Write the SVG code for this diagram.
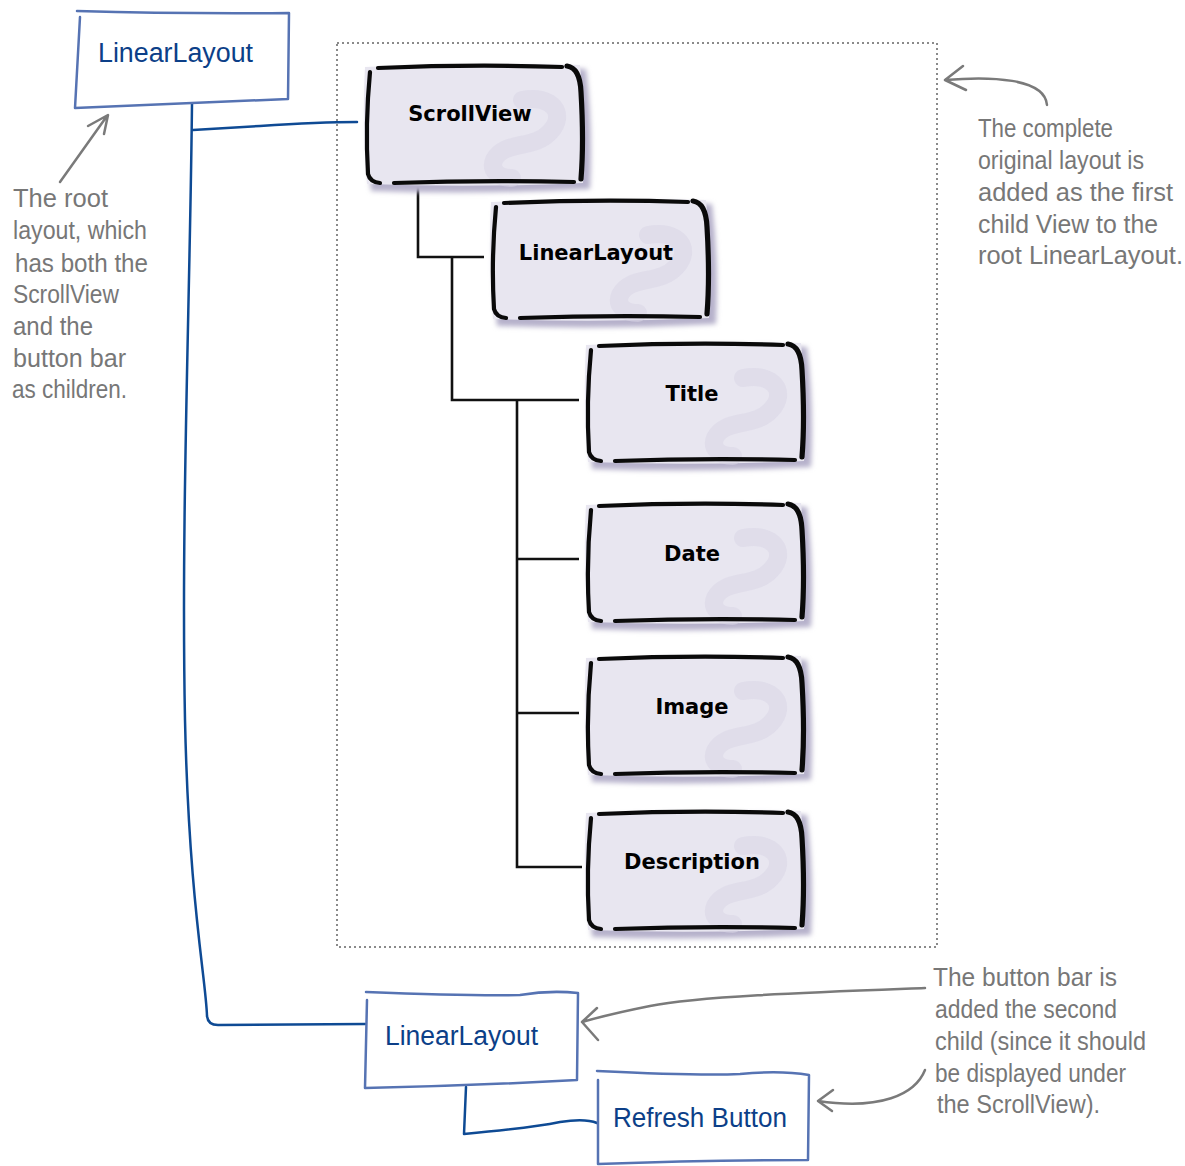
<svg xmlns="http://www.w3.org/2000/svg" xmlns:xlink="http://www.w3.org/1999/xlink" width="1185" height="1166" viewBox="0 0 1185 1166">
<style>
.hand{font-family:"Liberation Sans","DejaVu Sans",sans-serif;font-size:25px;fill:#777}
.blue{font-family:"Liberation Sans","DejaVu Sans",sans-serif;font-size:27px;fill:#0c3f88}
.nodet{font-family:"DejaVu Sans","Liberation Sans",sans-serif;font-weight:bold;font-size:21px;fill:#000;text-anchor:middle}
.bbox{fill:none;stroke:#5673b3;stroke-width:2.5;stroke-linecap:round;stroke-linejoin:round}
.bline{fill:none;stroke:#0e4a94;stroke-width:2.5;stroke-linecap:round;stroke-linejoin:round}
.kline{fill:none;stroke:#111;stroke-width:2.6}
.garrow{fill:none;stroke:#7a7a7a;stroke-width:2.5;stroke-linecap:round;stroke-linejoin:round}
.shadow{fill:#b6b1cb}
.bfill{fill:#e8e6f0}
.tex{fill:none;stroke:#d9d6e5;stroke-width:18;stroke-linecap:round;opacity:0.55}
.edge{fill:none;stroke:#0a0a0a;stroke-width:4.2;stroke-linecap:round}
.edge-r{stroke-width:5.2}
</style>
<defs>
<filter id="blur" x="-10%" y="-10%" width="120%" height="120%"><feGaussianBlur stdDeviation="2.5"/></filter>
<g id="box">
<path class="shadow" filter="url(#blur)" d="M7,9 Q112,2 224,7 Q231,64 228,127 Q116,133 9,129 Q3,70 7,9Z"/>
<path class="bfill" d="M3,5 Q112,0 218,3 Q224,62 221,121 Q112,126 5,122 Q0,62 3,5Z"/>
<path class="tex" d="M160,38 C190,32 205,52 188,70 C172,88 142,78 132,98 C128,108 136,116 150,116"/>
<path class="edge" d="M8,10 Q3,62 6,112 Q8,120 18,121"/>
<path class="edge" d="M16,6 Q110,2 200,5"/>
<path class="edge edge-r" d="M205,4 Q218,6 219,30 Q222,80 219,117"/>
<path class="edge" d="M32,121 Q120,118 212,120"/>
</g>
</defs>
<rect width="1185" height="1166" fill="#fff"/>

<rect x="337" y="43" width="600" height="904" fill="none" stroke="#8a8a8a" stroke-width="2" stroke-dasharray="2 3"/>

<g id="connectors">
<path class="bline" d="M192,104 C190,300 181,520 185,720 C189,900 206,980 207,1016 Q208,1025 218,1025 L365,1024"/>
<path class="bline" d="M193,130 L260,126 Q320,122 357,122"/>
<path class="bline" d="M466,1087 L464,1134 Q530,1128 560,1122 Q585,1118 597,1123"/>
<path class="kline" d="M418,187 V257 H484"/>
<path class="kline" d="M452,257 V400 H579"/>
<path class="kline" d="M517,400 V867 H582"/>
<path class="kline" d="M517,559 H579"/>
<path class="kline" d="M517,713 H579"/>
</g>

<g id="root-linearlayout">
<path class="bbox" d="M77,11 Q180,14 289,13 L288,99 Q180,104 75,108 L80,17"/>
<text class="blue" x="98" y="62" textLength="155" lengthAdjust="spacingAndGlyphs">LinearLayout</text>
</g>

<g id="scrollview" transform="translate(362,62)"><use xlink:href="#box"/><text class="nodet" x="108" y="59">ScrollView</text></g>
<g id="inner-linearlayout" transform="translate(488,197)"><use xlink:href="#box"/><text class="nodet" x="108" y="63">LinearLayout</text></g>
<g id="title" transform="translate(583,340)"><use xlink:href="#box"/><text class="nodet" x="109" y="61">Title</text></g>
<g id="date" transform="translate(583,500)"><use xlink:href="#box"/><text class="nodet" x="109" y="61">Date</text></g>
<g id="image" transform="translate(583,653)"><use xlink:href="#box"/><text class="nodet" x="109" y="61">Image</text></g>
<g id="description" transform="translate(583,808)"><use xlink:href="#box"/><text class="nodet" x="109" y="61">Description</text></g>

<g id="bottom-linearlayout">
<path class="bbox" d="M366,992 Q470,996 520,995 Q550,990 578,993 L577,1080 Q470,1086 365,1088 L367,1000"/>
<text class="blue" x="385" y="1045" textLength="153" lengthAdjust="spacingAndGlyphs">LinearLayout</text>
</g>

<g id="refresh-button">
<path class="bbox" d="M597,1071 Q700,1076 740,1074 Q780,1070 809,1075 L808,1160 Q700,1160 598,1164 L598,1080"/>
<text class="blue" x="613" y="1127" textLength="174" lengthAdjust="spacingAndGlyphs">Refresh Button</text>
</g>

<g id="note-root">
<path class="garrow" d="M60,182 L107,116 M88,126 L108,115 L104,134"/>
<text class="hand" x="13" y="207" textLength="95" lengthAdjust="spacingAndGlyphs">The root</text>
<text class="hand" x="13" y="239" textLength="134" lengthAdjust="spacingAndGlyphs">layout, which</text>
<text class="hand" x="15" y="272" textLength="133" lengthAdjust="spacingAndGlyphs">has both the</text>
<text class="hand" x="13" y="303" textLength="106" lengthAdjust="spacingAndGlyphs">ScrollView</text>
<text class="hand" x="13" y="335" textLength="80" lengthAdjust="spacingAndGlyphs">and the</text>
<text class="hand" x="13" y="367" textLength="113" lengthAdjust="spacingAndGlyphs">button bar</text>
<text class="hand" x="12" y="398" textLength="115" lengthAdjust="spacingAndGlyphs">as children.</text>
</g>

<g id="note-original">
<path class="garrow" d="M945,80 C990,76 1045,78 1047,105 M963,66 L945,80 L966,90"/>
<text class="hand" x="978" y="137" textLength="135" lengthAdjust="spacingAndGlyphs">The complete</text>
<text class="hand" x="978" y="169" textLength="166" lengthAdjust="spacingAndGlyphs">original layout is</text>
<text class="hand" x="978" y="201" textLength="195" lengthAdjust="spacingAndGlyphs">added as the first</text>
<text class="hand" x="978" y="233" textLength="180" lengthAdjust="spacingAndGlyphs">child View to the</text>
<text class="hand" x="978" y="264" textLength="205" lengthAdjust="spacingAndGlyphs">root LinearLayout.</text>
</g>

<g id="note-buttonbar">
<path class="garrow" d="M925,988 C820,992 700,996 650,1006 Q610,1014 582,1022 M597,1008 L582,1022 L598,1040"/>
<path class="garrow" d="M925,1070 C915,1095 880,1110 818,1101 M833,1090 L818,1101 L832,1111"/>
<text class="hand" x="933" y="986" textLength="184" lengthAdjust="spacingAndGlyphs">The button bar is</text>
<text class="hand" x="935" y="1018" textLength="182" lengthAdjust="spacingAndGlyphs">added the second</text>
<text class="hand" x="935" y="1050" textLength="211" lengthAdjust="spacingAndGlyphs">child (since it should</text>
<text class="hand" x="935" y="1082" textLength="191" lengthAdjust="spacingAndGlyphs">be displayed under</text>
<text class="hand" x="937" y="1113" textLength="163" lengthAdjust="spacingAndGlyphs">the ScrollView).</text>
</g>
</svg>
